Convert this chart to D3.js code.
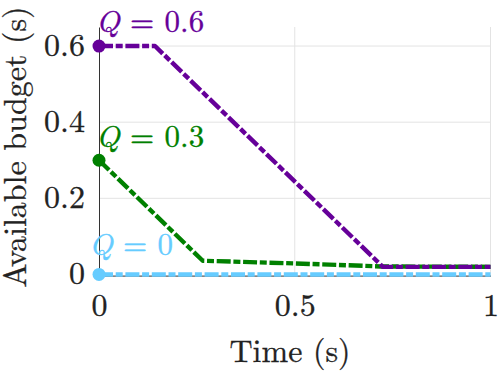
<!DOCTYPE html>
<html><head><meta charset="utf-8">
<script src="https://cdn.jsdelivr.net/npm/d3@7"></script>
<style>body{margin:0;background:#fff}svg{display:block}</style>
</head><body>
<svg id="c" width="498" height="371"></svg>
<script>
const xTicks = [0, 0.5, 1];
const yTicks = [0, 0.2, 0.4, 0.6];
const seriesNames = ["Q = 0.6", "Q = 0.3", "Q = 0"];
const qValues = [0.6, 0.3, 0];
const colors = ["#660099", "#008000", "#66ccff"];
const purpleT = [0, 0.143, 0.725, 1];
const purpleV = [0.6, 0.6, 0.02, 0.02];
const greenT = [0, 0.265, 0.5, 0.72, 1];
const greenV = [0.3, 0.036, 0.029, 0.021, 0.02];
const cyanT = [0, 1];
const cyanV = [0, 0];

const FONT = '"Latin Modern Roman","Liberation Serif",serif';
const svg = d3.select("#c");
const x = d3.scaleLinear().domain([0, 1]).range([99, 490.5]);
const y = d3.scaleLinear().domain([-0.003, 0.65]).range([275.6, 27]);

// grid
const g = svg.append("g");
g.selectAll(".gx").data(xTicks.slice(1)).enter().append("line")
  .attr("x1", d => x(d)).attr("x2", d => x(d)).attr("y1", y.range()[0]).attr("y2", y.range()[1])
  .attr("stroke", "#e3e3e3").attr("stroke-width", 1);
g.selectAll(".gy").data(yTicks.slice(1)).enter().append("line")
  .attr("x1", x.range()[0]).attr("x2", x.range()[1]).attr("y1", d => y(d)).attr("y2", d => y(d))
  .attr("stroke", "#e3e3e3").attr("stroke-width", 1);

// axes
const xAxis = d3.axisBottom(x).tickValues(xTicks).tickSize(0).tickPadding(0).tickFormat(d3.format("~g"));
const yAxis = d3.axisLeft(y).tickValues(yTicks).tickSize(0).tickPadding(14).tickFormat(d3.format("~g"));
const gx = svg.append("g").attr("transform", `translate(0,${y.range()[0]})`).call(xAxis);
const gy = svg.append("g").attr("transform", `translate(${x.range()[0]},0)`).call(yAxis);
[gx, gy].forEach(a => {
  a.attr("font-family", FONT).attr("font-size", 32);
  a.select(".domain").attr("stroke", "#333").attr("stroke-width", 1);
  a.selectAll("text").attr("fill", "#222").attr("stroke", "#222").attr("stroke-width", 0.3);
});
gx.selectAll("text").attr("y", 40.5).attr("dy", 0);
gy.selectAll("text").attr("dy", 9.5);

// lines
const data = [
  purpleT.map((t, i) => [t, purpleV[i]]),
  greenT.map((t, i) => [t, greenV[i]]),
  cyanT.map((t, i) => [t, cyanV[i]])
];
const line = d3.line().x(d => x(d[0])).y(d => y(d[1]));
[2, 1, 0].forEach(i => {
  svg.append("path").datum(data[i]).attr("d", line)
    .attr("fill", "none").attr("stroke", colors[i]).attr("stroke-width", 4.4)
    .attr("stroke-linejoin", "round")
    .attr("stroke-dasharray", "14,2.7,7,2.7");
});
// markers
qValues.forEach((q, i) => {
  svg.append("circle").attr("cx", x(0)).attr("cy", y(q)).attr("r", 6.5).attr("fill", colors[i]);
});
// labels
const labelPos = [[96, 32], [96, 147], [89, 255]];
seriesNames.forEach((nm, i) => {
  const t = svg.append("text").attr("x", labelPos[i][0]).attr("y", labelPos[i][1])
    .attr("font-family", FONT).attr("font-size", 31).attr("fill", colors[i])
    .attr("stroke", colors[i]).attr("stroke-width", 0.3);
  const parts = nm.split(" = ");
  t.append("tspan").attr("font-style", "italic").text(parts[0]);
  t.append("tspan").text(" = " + parts[1]);
});

// axis titles
svg.append("text").attr("x", 290).attr("y", 362).attr("text-anchor", "middle")
  .attr("font-family", FONT).attr("font-size", 32).attr("fill", "#222")
  .attr("stroke", "#222").attr("stroke-width", 0.3).text("Time (s)");
svg.append("text").attr("transform", "translate(26,147) rotate(-90)").attr("text-anchor", "middle")
  .attr("font-family", FONT).attr("font-size", 32).attr("fill", "#222")
  .attr("stroke", "#222").attr("stroke-width", 0.3).text("Available budget (s)");
</script>
</body></html>
